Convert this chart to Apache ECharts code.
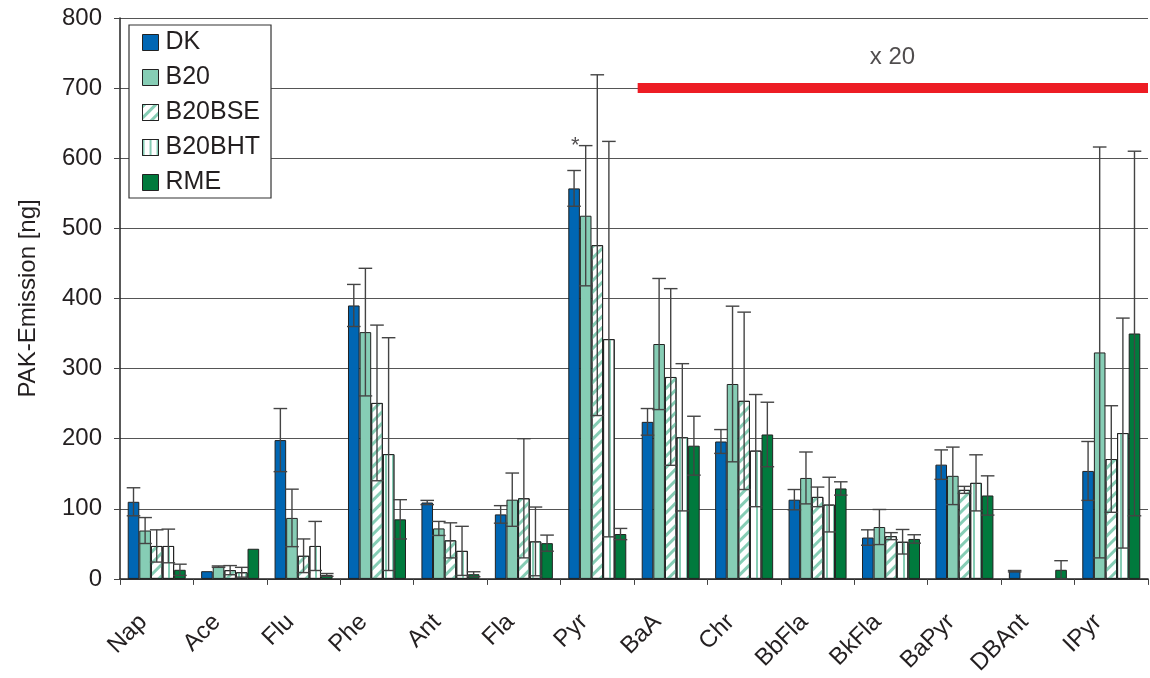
<!DOCTYPE html>
<html>
<head>
<meta charset="utf-8">
<script src="https://cdn.jsdelivr.net/npm/echarts@6/dist/echarts.min.js"></script>
<style>
html,body{margin:0;padding:0;background:#fff;}
#chart{width:1150px;height:678px;}
</style>
</head>
<body>
<div id="chart"></div>
<script>
const categories = ['Nap','Ace','Flu','Phe','Ant','Fla','Pyr','BaA','Chr','BbFla','BkFla','BaPyr','DBAnt','IPyr'];
const seriesNames = ['DK','B20','B20BSE','B20BHT','RME'];
const yTicks = [0,100,200,300,400,500,600,700,800];

const dkValues     = [110, 11, 198, 390, 109, 92, 557, 224, 196, 113, 59, 163, 11, 154];
const dkErrors     = [20, 0, 45, 30, 3, 12.5, 25.5, 19, 17, 14.5, 11, 21, 1, 42];
const b20Values    = [69, 17.5, 87, 352, 72, 113, 518, 335, 278, 144, 74, 147, null, 323];
const b20Errors    = [18.5, 1, 41, 91, 10, 38, 100, 93.5, 111, 37, 25, 41, null, 293];
const b20bseValues = [47, 12.5, 33, 251, 55, 115, 476, 288, 254, 117, 61, 127, null, 171];
const b20bseErrors = [23, 6.5, 24, 111, 25, 85, 243, 126, 126.5, 14, 5, 5, null, 76];
const b20bhtValues = [47, 9.5, 47, 178, 40, 53.5, 342, 202, 183, 106, 53, 137, null, 208];
const b20bhtErrors = [24, 7, 35, 166, 35, 49, 282, 105, 80, 39, 17.5, 40, null, 164];
const rmeValues    = [13, 43, 5.7, 85, 6.7, 51, 64, 190, 206, 129, 57, 119, 13, 350];
const rmeErrors    = [8, 0, 2, 28, 3.5, 11.5, 8, 42, 46, 9.5, 6, 28, 13, 260];

const factorLabel = 'x 20';
const factorLineY = 700;
const factorStart = 'BaA';
const starLabel = '*';
const starValue = 617;

const allValues = [dkValues, b20Values, b20bseValues, b20bhtValues, rmeValues];
const allErrors = [dkErrors, b20Errors, b20bseErrors, b20bhtErrors, rmeErrors];

const FONT = 'Liberation Sans, Arial, Helvetica, sans-serif';
const TXT = '#231f20';
const GAP = 0.21;
const lightGreen = '#86cdb5';

const styles = [
  {color:'#0066b3'},
  {color:lightGreen},
  {color:'#ffffff', decal:{symbol:'rect', symbolSize:1, dashArrayX:[[2.5,4.5]], dashArrayY:[10,0], rotation:Math.PI/4, color:lightGreen}},
  {color:'#ffffff', decal:{symbol:'rect', symbolSize:1, dashArrayX:[[2,5]], dashArrayY:[10,0], rotation:0, color:lightGreen}},
  {color:'#007a3d'}
];

const barSeries = seriesNames.map((n, k) => ({
  name: n,
  type: 'bar',
  data: allValues[k],
  barGap: '0%',
  barCategoryGap: (GAP*100) + '%',
  itemStyle: Object.assign({borderColor:'#222', borderWidth:1}, styles[k]),
  z: 2
}));

const errData = [];
allValues.forEach((vals, k) => {
  vals.forEach((v, i) => {
    const e = allErrors[k][i];
    if (v != null && e) errData.push([i, k, v, e]);
  });
});

const errSeries = {
  type: 'custom',
  name: 'err',
  data: errData,
  encode: {x: 0, y: 2},
  z: 5,
  silent: true,
  renderItem: function (params, api) {
    const ci = api.value(0), k = api.value(1), v = api.value(2), e = api.value(3);
    const band = api.size([1, 0])[0];
    const group = band * (1 - GAP);
    const bw = group / 5;
    const cx = api.coord([ci, 0])[0] - group / 2 + bw * (k + 0.5);
    const yt = api.coord([ci, v + e])[1];
    const yb = api.coord([ci, Math.max(v - e, 0)])[1];
    const hw = bw / 2 + 1;
    const st = {stroke: '#444', lineWidth: 1.4};
    return {
      type: 'group',
      children: [
        {type:'line', shape:{x1:cx, y1:yt, x2:cx, y2:yb}, style:st},
        {type:'line', shape:{x1:cx-hw, y1:yt, x2:cx+hw, y2:yt}, style:st},
        {type:'line', shape:{x1:cx-hw, y1:yb, x2:cx+hw, y2:yb}, style:st}
      ]
    };
  }
};

const startIdx = categories.indexOf(factorStart);

const option = {
  animation: false,
  backgroundColor: '#ffffff',
  textStyle: {fontFamily: FONT, color: TXT},
  grid: {left: 120, right: 2, top: 18, bottom: 97, containLabel: false},
  legend: {
    data: seriesNames,
    orient: 'vertical',
    left: 129, top: 25,
    itemWidth: 16, itemHeight: 16, itemGap: 10,
    icon: 'rect',
    padding: [5, 11, 3, 13],
    borderColor: '#333', borderWidth: 1.2,
    backgroundColor: '#ffffff',
    textStyle: {fontSize: 25, color: TXT, fontFamily: FONT, lineHeight: 25, padding: [0, 0, 0, 2]},
    itemStyle: {borderColor: '#222', borderWidth: 1}
  },
  xAxis: [
    {
      type: 'category',
      data: categories,
      axisLine: {lineStyle: {color: '#222', width: 1.5}},
      axisTick: {show: true, inside: false, length: 6, lineStyle: {color: '#444'}},
      axisLabel: {rotate: 45, fontSize: 24, color: TXT, fontFamily: FONT, margin: 26, interval: 0, padding: [0, 19, 0, 0]},
      splitLine: {show: false}
    },
    {
      type: 'value', min: 0, max: categories.length, show: false
    }
  ],
  yAxis: {
    type: 'value',
    min: 0, max: 800, interval: 100,
    name: 'PAK-Emission [ng]',
    nameLocation: 'middle',
    nameGap: 80,
    nameTextStyle: {fontSize: 24, color: TXT, fontFamily: FONT},
    axisLine: {show: true, lineStyle: {color: '#222', width: 1.5}},
    axisTick: {show: true, length: 6, lineStyle: {color: '#444'}},
    axisLabel: {fontSize: 24, color: TXT, fontFamily: FONT, margin: 18,
      formatter: v => yTicks.indexOf(v) >= 0 ? String(v) : ''},
    splitLine: {show: true, lineStyle: {color: '#555', width: 1.2}}
  },
  series: barSeries.concat([
    errSeries,
    {
      type: 'line', xAxisIndex: 1, silent: true, symbol: 'none', z: 6,
      data: [[startIdx + 0.05, factorLineY], [categories.length, factorLineY]],
      lineStyle: {color: '#ed1c24', width: 10, cap: 'butt'}
    },
    {
      type: 'scatter', xAxisIndex: 1, silent: true, symbolSize: 0, z: 6,
      data: [[(startIdx + categories.length) / 2 + 0.02, 744]],
      label: {show: true, position: 'inside', formatter: factorLabel, fontSize: 24, color: TXT, fontFamily: FONT}
    },
    {
      type: 'scatter', xAxisIndex: 1, silent: true, symbolSize: 0, z: 6,
      data: [[categories.indexOf('Pyr') + 0.2, starValue]],
      label: {show: true, position: 'inside', formatter: starLabel, fontSize: 22, color: TXT, fontFamily: FONT}
    }
  ])
};

const chart = echarts.init(document.getElementById('chart'), null, {renderer: 'canvas'});
chart.setOption(option);
</script>
</body>
</html>
